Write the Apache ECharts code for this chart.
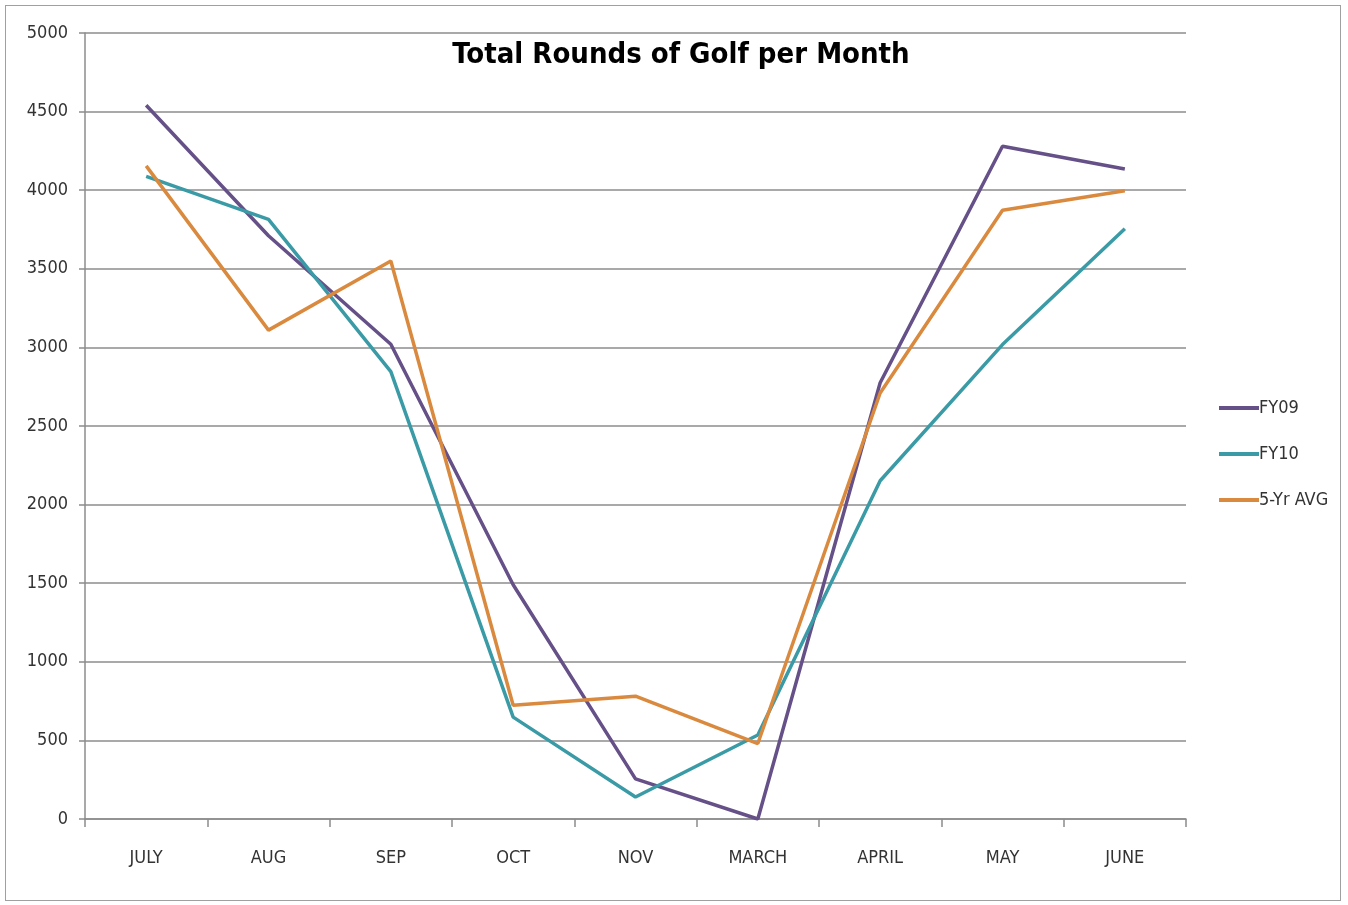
<!DOCTYPE html>
<html>
<head>
<meta charset="utf-8">
<title>Total Rounds of Golf per Month</title>
<script src="https://cdn.jsdelivr.net/npm/echarts@6/dist/echarts.min.js"></script>
<style>
  html, body { margin: 0; padding: 0; background: #fff; }
  #chart {
    position: absolute;
    left: 5px; top: 5px;
    width: 1336px; height: 896px;
    border: 1px solid #a0a0a0;
    box-sizing: border-box;
  }
</style>
</head>
<body>
<div id="chart"></div>
<script>
  // month categories
  const months = ["JULY", "AUG", "SEP", "OCT", "NOV", "MARCH", "APRIL", "MAY", "JUNE"];

  // rounds per month
  const fy09 = [4540, 3710, 3020, 1490, 255, 0, 2775, 4280, 4135];
  const fy10 = [4088, 3815, 2846, 648, 140, 534, 2152, 3018, 3755];
  const fiveYrAvg = [4155, 3110, 3550, 724, 781, 480, 2710, 3872, 3996];

  const labelFont = "'DejaVu Sans Condensed', sans-serif";

  const chart = echarts.init(document.getElementById("chart"));

  const lineSeries = (name, data, color) => ({
    name: name,
    type: "line",
    data: data,
    showSymbol: false,
    symbol: "none",
    lineStyle: { width: 3.5, color: color },
    itemStyle: { color: color },
  });

  chart.setOption({
    animation: false,
    title: {
      text: "Total Rounds of Golf per Month",
      left: 670,
      top: 30,
      textAlign: "center",
      textStyle: {
        fontFamily: "'DejaVu Sans Condensed', sans-serif",
        fontWeight: "bold",
        fontSize: 29,
        color: "#000",
      },
    },
    legend: {
      orient: "vertical",
      left: 1208,
      top: 388,
      icon: "rect",
      itemWidth: 40,
      itemHeight: 4,
      itemGap: 28,
      textStyle: {
        fontFamily: labelFont,
        fontSize: 18,
        color: "#333",
        padding: [0, 0, 0, -5],
      },
      data: ["FY09", "FY10", "5-Yr AVG"],
    },
    grid: {
      left: 79,
      right: 154,
      top: 27,
      bottom: 81,
      containLabel: false,
    },
    xAxis: {
      type: "category",
      data: months,
      boundaryGap: true,
      axisLine: { lineStyle: { color: "#8c8c8c", width: 1.5 } },
      axisTick: { show: true, length: 8, lineStyle: { color: "#8c8c8c", width: 1.5 } },
      axisLabel: {
        margin: 30,
        fontFamily: labelFont,
        fontSize: 18,
        color: "#333",
      },
    },
    yAxis: {
      type: "value",
      min: 0,
      max: 5000,
      interval: 500,
      axisLine: { show: true, lineStyle: { color: "#8c8c8c", width: 1.5 } },
      axisTick: { show: true, length: 6, lineStyle: { color: "#8c8c8c", width: 1.5 } },
      axisLabel: {
        margin: 17,
        formatter: (v) => String(v),
        fontFamily: labelFont,
        fontSize: 18,
        color: "#333",
      },
      splitLine: { lineStyle: { color: "#8c8c8c", width: 1.5 } },
    },
    series: [
      lineSeries("FY09", fy09, "#655088"),
      lineSeries("FY10", fy10, "#3a9ba6"),
      lineSeries("5-Yr AVG", fiveYrAvg, "#da8a3e"),
    ],
  });
</script>
</body>
</html>
